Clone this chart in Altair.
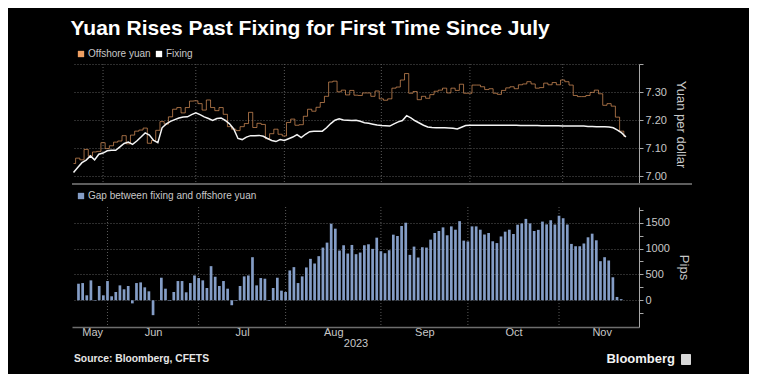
import altair as alt
import pandas as pd

# ---------------- data ----------------
TRADING_DAYS = pd.bdate_range("2023-05-23", "2023-11-22").strftime("%Y-%m-%d").tolist()

OFFSHORE = [7.046, 7.065, 7.059, 7.096, 7.072, 7.087, 7.089, 7.120, 7.099, 7.109,
            7.122, 7.126, 7.145, 7.116, 7.147, 7.161, 7.165, 7.172, 7.118, 7.128,
            7.164, 7.195, 7.186, 7.212, 7.239, 7.245, 7.226, 7.245, 7.268, 7.269,
            7.259, 7.236, 7.272, 7.245, 7.234, 7.245, 7.221, 7.177, 7.168, 7.163,
            7.177, 7.188, 7.228, 7.174, 7.189, 7.185, 7.134, 7.152, 7.168, 7.150,
            7.144, 7.192, 7.204, 7.182, 7.184, 7.214, 7.239, 7.232, 7.246, 7.263,
            7.285, 7.336, 7.339, 7.301, 7.307, 7.290, 7.306, 7.289, 7.288, 7.297,
            7.297, 7.285, 7.304, 7.276, 7.271, 7.276, 7.314, 7.318, 7.343, 7.366,
            7.296, 7.302, 7.273, 7.285, 7.278, 7.291, 7.303, 7.307, 7.314, 7.297,
            7.314, 7.306, 7.328, 7.296, 7.296, 7.325, 7.325, 7.319, 7.309, 7.312,
            7.296, 7.292, 7.306, 7.315, 7.319, 7.312, 7.326, 7.329, 7.337, 7.329,
            7.314, 7.316, 7.332, 7.326, 7.334, 7.326, 7.343, 7.337, 7.325, 7.288,
            7.284, 7.284, 7.288, 7.299, 7.307, 7.294, 7.253, 7.259, 7.250, 7.211,
            7.161, 7.142]

FIXING = [7.014, 7.032, 7.049, 7.058, 7.073, 7.059, 7.079, 7.083, 7.091, 7.093,
          7.093, 7.105, 7.117, 7.122, 7.114, 7.126, 7.140, 7.155, 7.147, 7.128,
          7.120, 7.173, 7.187, 7.196, 7.202, 7.208, 7.211, 7.212, 7.220, 7.226,
          7.220, 7.212, 7.206, 7.199, 7.206, 7.208, 7.199, 7.187, 7.169, 7.135,
          7.131, 7.140, 7.145, 7.145, 7.146, 7.143, 7.135, 7.128, 7.124, 7.131,
          7.128, 7.134, 7.140, 7.149, 7.138, 7.150, 7.159, 7.161, 7.161, 7.161,
          7.173, 7.188, 7.200, 7.205, 7.201, 7.200, 7.199, 7.200, 7.196, 7.191,
          7.189, 7.186, 7.183, 7.181, 7.180, 7.179, 7.187, 7.194, 7.199, 7.216,
          7.208, 7.198, 7.190, 7.182, 7.176, 7.174, 7.173, 7.173, 7.173, 7.172,
          7.171, 7.169, 7.175, 7.181, 7.182, 7.182, 7.182, 7.182, 7.182, 7.182,
          7.182, 7.182, 7.182, 7.182, 7.182, 7.182, 7.181, 7.181, 7.181, 7.181,
          7.181, 7.180, 7.180, 7.180, 7.180, 7.180, 7.179, 7.179, 7.179, 7.179,
          7.179, 7.179, 7.178, 7.178, 7.177, 7.177, 7.177, 7.176, 7.173, 7.165,
          7.155, 7.140]

GAP = [320, 333, 96, 385, -10, 276, 96, 372, 77, 160,
       288, 212, 276, -60, 333, 346, 250, 173, -288, 0,
       436, 224, -10, 160, 372, 372, 154, 333, 480, 430,
       385, 237, 660, 455, 276, 372, 224, -96, -10, 276,
       462, 480, 833, 288, 430, 417, -13, 237, 436, 186,
       160, 577, 641, 333, 462, 635, 801, 711, 853, 1019,
       1115, 1481, 1385, 962, 1064, 904, 1070, 891, 923, 1064,
       1083, 994, 1211, 949, 910, 968, 1269, 1243, 1436, 1500,
       878, 1038, 827, 1026, 1019, 1173, 1301, 1340, 1410, 1257,
       1429, 1365, 1530, 1154, 1138, 1429, 1429, 1365, 1272, 1301,
       1141, 1106, 1234, 1327, 1365, 1282, 1462, 1487, 1574, 1487,
       1340, 1362, 1522, 1468, 1548, 1465, 1635, 1587, 1465, 1090,
       1045, 1045, 1096, 1218, 1288, 1160, 756, 833, 769, 445,
       64, 22]

SERIES_TOP = ["Offshore yuan", "Fixing"]
SERIES_BOTTOM = ["Gap between fixing and offshore yuan"]
MONTHS = ["May", "Jun", "Jul", "Aug", "Sep", "Oct", "Nov"]
MONTH_LABEL_POS = [3.3, 18.0, 39.5, 61.5, 83.5, 105.0, 126.3]
YUAN_TICKS = [7.0, 7.1, 7.2, 7.3, 7.4]
PIPS_TICKS = [-250, 0, 250, 500, 750, 1000, 1250, 1500, 1750]

# ---------------- styling ----------------
FONT = "Liberation Sans"
OFF_COLOR = "#ee9f62"
FIX_COLOR = "#f4f4f4"
BAR_COLOR = "#849dc6"
GRID = "#5a5a5a"
AXIS = "#a8a8a8"
TXT = "#c8c8c8"
W, H = 567, 120
XDOM = [-0.36, 134.1]

n = len(TRADING_DAYS)
idx = list(range(n))
top_df = pd.DataFrame({"i": idx, "date": TRADING_DAYS, "offshore": OFFSHORE, "fixing": FIXING})
gap_df = pd.DataFrame({"i": idx, "date": TRADING_DAYS, "gap": GAP,
                       "series": [SERIES_BOTTOM[0]] * n})
month_starts = [k for k in range(1, n) if TRADING_DAYS[k][5:7] != TRADING_DAYS[k - 1][5:7]]
grid_df = pd.DataFrame({"i": month_starts})
legend_df = pd.DataFrame({"series": SERIES_TOP, "i": [0, 0], "v": [FIXING[0], FIXING[0]]})
one = pd.DataFrame({"k": [0]})

xs = alt.Scale(domain=XDOM, nice=False, zero=False)
ys_top = alt.Scale(domain=[6.973, 7.40], nice=False, zero=False)
ys_bot = alt.Scale(domain=[-517, 1804], nice=False, zero=False)

label_expr = "".join(
    f"datum.value < {(MONTH_LABEL_POS[k] + MONTH_LABEL_POS[k + 1]) / 2} ? '{MONTHS[k]}' : "
    for k in range(len(MONTHS) - 1)) + f"'{MONTHS[-1]}'"

x_bottom_axis = alt.Axis(values=MONTH_LABEL_POS, labelExpr=label_expr, tickSize=0, grid=False,
                         labelFlush=False, labelOverlap=False, labelAlign="center",
                         domain=True, domainColor="#6e6e6e", domainWidth=1.5,
                         labelColor=TXT, labelFontSize=11, labelPadding=-1,
                         title="2023", titleColor=TXT, titleFontSize=11,
                         titleFontWeight="normal", titlePadding=0)

y_top_axis = alt.Axis(orient="right", values=YUAN_TICKS,
                      labelExpr="datum.value > 7.35 ? '' : format(datum.value, '.2f')",
                      grid=True, gridColor=GRID, gridDash=[1, 2], tickSize=4, tickColor=AXIS,
                      domain=True, domainColor=AXIS, labelColor=TXT, labelFontSize=11,
                      labelPadding=2, title="Yuan per dollar", titleColor=TXT,
                      titleFontSize=13, titleFontWeight="normal", titleAngle=90, titlePadding=7)

y_bot_axis = alt.Axis(orient="right", values=PIPS_TICKS,
                      labelExpr="datum.value % 500 == 0 ? format(datum.value, 'd') : ''",
                      grid=True, gridColor=GRID, gridDash=[1, 2],
                      gridOpacity={"condition": {"test": "datum.value % 500 == 0", "value": 1}, "value": 0},
                      tickSize=4, tickColor=AXIS, domain=True, domainColor=AXIS,
                      labelColor=TXT, labelFontSize=11, labelPadding=2,
                      title="Pips", titleColor=TXT, titleFontSize=13, titleFontWeight="normal",
                      titleAngle=90, titlePadding=7)


def legend(y):
    return alt.Legend(title=None, orient="none", legendX=4, legendY=y, direction="horizontal",
                      symbolType="square", symbolSize=40, symbolOpacity=1, symbolStrokeWidth=0,
                      labelColor=TXT, labelFontSize=10, labelFont=FONT, labelOffset=2,
                      columnPadding=3, padding=0, labelLimit=400)


# ---------------- top panel ----------------
vgrid_top = alt.Chart(grid_df).mark_rule(color=GRID, strokeDash=[1, 2], strokeWidth=1).encode(
    x=alt.X("i:Q", scale=xs, axis=None))
offshore = alt.Chart(top_df).mark_line(interpolate="step", color=OFF_COLOR, strokeWidth=1,
                                       opacity=0.65).encode(
    x=alt.X("i:Q", scale=xs, axis=None),
    y=alt.Y("offshore:Q", scale=ys_top, axis=y_top_axis))
fixing = alt.Chart(top_df).mark_line(color=FIX_COLOR, strokeWidth=1.5).encode(
    x=alt.X("i:Q", scale=xs, axis=None),
    y=alt.Y("fixing:Q", scale=ys_top, axis=y_top_axis))
top_legend = alt.Chart(legend_df).mark_square(opacity=0).encode(
    x=alt.X("i:Q", scale=xs, axis=None),
    y=alt.Y("v:Q", scale=ys_top, axis=y_top_axis),
    color=alt.Color("series:N", scale=alt.Scale(domain=SERIES_TOP, range=[OFF_COLOR, "#ffffff"]),
                    legend=legend(-15)))
separator = alt.Chart(one).mark_rule(color="#5e5e5e", strokeWidth=2).encode(
    x=alt.value(0), x2=alt.value(620), y=alt.value(H))

top = alt.layer(vgrid_top, offshore, fixing, top_legend, separator).properties(width=W, height=H)

# ---------------- bottom panel ----------------
vgrid_bot = alt.Chart(grid_df).mark_rule(color=GRID, strokeDash=[1, 2], strokeWidth=1).encode(
    x=alt.X("i:Q", scale=xs, axis=x_bottom_axis))
bars = alt.Chart(gap_df).mark_bar(width=2.7).encode(
    x=alt.X("i:Q", scale=xs, axis=x_bottom_axis),
    y=alt.Y("gap:Q", scale=ys_bot, axis=y_bot_axis),
    color=alt.Color("series:N", scale=alt.Scale(domain=SERIES_BOTTOM, range=[BAR_COLOR]),
                    legend=legend(-16)))
source = alt.Chart(pd.DataFrame({"t": ["Source: Bloomberg, CFETS"]})).mark_text(
    align="left", baseline="middle", fontSize=10.3, fontWeight="bold", color="#e6e6e6",
    font=FONT).encode(text="t:N", x=alt.value(2), y=alt.value(152))
brand = alt.Chart(pd.DataFrame({"t": ["Bloomberg"]})).mark_text(
    align="right", baseline="middle", fontSize=13, fontWeight="bold", color="#f2f2f2",
    font=FONT).encode(text="t:N", x=alt.value(603), y=alt.value(152))
icon = alt.Chart(one).mark_rect(color="#d8d8d8", cornerRadius=1).encode(
    x=alt.value(609), x2=alt.value(619), y=alt.value(147), y2=alt.value(158))

bottom = alt.layer(vgrid_bot, bars, source, brand, icon).properties(width=W, height=H)

chart = alt.vconcat(top, bottom, spacing=23, bounds="flush").resolve_scale(
    color="independent", x="independent", y="independent"
).resolve_legend(color="independent").properties(
    title=alt.TitleParams("Yuan Rises Past Fixing for First Time Since July", anchor="start",
                          fontSize=21, fontWeight="bold", color="#ffffff", font=FONT,
                          offset=10),
    padding={"left": 62, "top": 10, "right": 56, "bottom": 8},
).configure(background="#000000", font=FONT).configure_view(stroke=None)

chart.save("out.html", embed_options={"renderer": "svg", "actions": False})
